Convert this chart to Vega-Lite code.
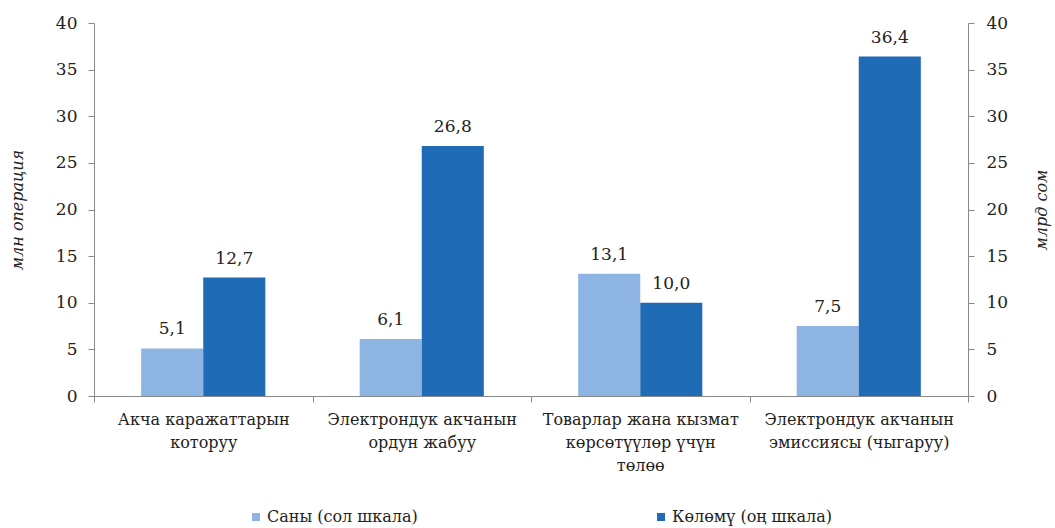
{
  "$schema": "https://vega.github.io/schema/vega-lite/v6.json",
  "width": 874,
  "height": 373,
  "autosize": {"type": "none"},
  "padding": {"left": 94, "top": 23, "right": 87, "bottom": 132},
  "config": {
    "view": {"stroke": null},
    "font": "DejaVu Serif",
    "locale": {"number": {"decimal": ",", "thousands": " ", "grouping": [3], "currency": ["", ""]}}
  },
  "data": {
    "values": [
      {"cat": "Акча каражаттарын которуу", "series": "Саны (сол шкала)", "value": 5.1},
      {"cat": "Акча каражаттарын которуу", "series": "Көлөмү (оң шкала)", "value": 12.7},
      {"cat": "Электрондук акчанын ордун жабуу", "series": "Саны (сол шкала)", "value": 6.1},
      {"cat": "Электрондук акчанын ордун жабуу", "series": "Көлөмү (оң шкала)", "value": 26.8},
      {"cat": "Товарлар жана кызмат көрсөтүүлөр үчүн төлөө", "series": "Саны (сол шкала)", "value": 13.1},
      {"cat": "Товарлар жана кызмат көрсөтүүлөр үчүн төлөө", "series": "Көлөмү (оң шкала)", "value": 10.0},
      {"cat": "Электрондук акчанын эмиссиясы (чыгаруу)", "series": "Саны (сол шкала)", "value": 7.5},
      {"cat": "Электрондук акчанын эмиссиясы (чыгаруу)", "series": "Көлөмү (оң шкала)", "value": 36.4}
    ]
  },
  "encoding": {
    "x": {
      "field": "cat",
      "type": "nominal",
      "sort": ["Акча каражаттарын которуу", "Электрондук акчанын ордун жабуу", "Товарлар жана кызмат көрсөтүүлөр үчүн төлөө", "Электрондук акчанын эмиссиясы (чыгаруу)"],
      "scale": {"paddingInner": 0, "paddingOuter": 0},
      "axis": {
        "title": null,
        "labelAngle": 0,
        "labelFontSize": 16,
        "labelColor": "#222",
        "labelLineHeight": 23,
        "labelPadding": 9,
        "labelBaseline": "top",
        "labelLimit": 300,
        "tickBand": "extent",
        "tickSize": 6,
        "tickColor": "#888",
        "domainColor": "#888",
        "labelExpr": "datum.value == 'Акча каражаттарын которуу' ? ['Акча каражаттарын', 'которуу'] : datum.value == 'Электрондук акчанын ордун жабуу' ? ['Электрондук акчанын', 'ордун жабуу'] : datum.value == 'Товарлар жана кызмат көрсөтүүлөр үчүн төлөө' ? ['Товарлар жана кызмат', 'көрсөтүүлөр үчүн', 'төлөө'] : datum.value == 'Электрондук акчанын эмиссиясы (чыгаруу)' ? ['Электрондук акчанын', 'эмиссиясы (чыгаруу)'] : ''"
      }
    },
    "xOffset": {
      "field": "series",
      "type": "nominal",
      "sort": ["Саны (сол шкала)", "Көлөмү (оң шкала)"],
      "scale": {"paddingOuter": 0.76, "paddingInner": 0}
    }
  },
  "layer": [
    {
      "mark": {"type": "bar"},
      "encoding": {
        "y": {
          "field": "value",
          "type": "quantitative",
          "scale": {"domain": [0, 40], "nice": false},
          "axis": {
            "title": "млн операция",
            "titleFontStyle": "italic",
            "titleFontWeight": "normal",
            "titleFontSize": 16,
            "titleColor": "#222",
            "titlePadding": 30,
            "values": [0, 5, 10, 15, 20, 25, 30, 35, 40],
            "labelFontSize": 17,
            "labelColor": "#222",
            "labelPadding": 11,
            "tickSize": 6,
            "tickColor": "#888",
            "domainColor": "#888",
            "grid": false
          }
        },
        "color": {
          "field": "series",
          "type": "nominal",
          "sort": ["Саны (сол шкала)", "Көлөмү (оң шкала)"],
          "scale": {"domain": ["Саны (сол шкала)", "Көлөмү (оң шкала)"], "range": ["#8DB4E2", "#1F6BB6"]},
          "legend": {
            "title": null,
            "orient": "none",
            "direction": "horizontal",
            "legendX": 154,
            "legendY": 486,
            "columns": 2,
            "columnPadding": 235,
            "labelFontSize": 16,
            "labelColor": "#222",
            "labelOffset": 3,
            "labelLimit": 300,
            "symbolType": "square",
            "symbolSize": 64,
            "symbolStrokeWidth": 0
          }
        }
      }
    },
    {
      "mark": {"type": "text", "dy": -10, "baseline": "bottom", "fontSize": 17, "color": "#222"},
      "encoding": {
        "y": {
          "field": "value",
          "type": "quantitative",
          "scale": {"domain": [0, 40], "nice": false},
          "axis": {
            "orient": "right",
            "title": "млрд сом",
            "titleAngle": 270,
            "titleFontStyle": "italic",
            "titleFontWeight": "normal",
            "titleFontSize": 16,
            "titleColor": "#222",
            "titlePadding": 42,
            "values": [0, 5, 10, 15, 20, 25, 30, 35, 40],
            "labelFontSize": 17,
            "labelColor": "#222",
            "labelPadding": 12,
            "tickSize": 6,
            "tickColor": "#888",
            "domainColor": "#888",
            "grid": false
          }
        },
        "text": {"field": "value", "type": "quantitative", "format": ".1f"}
      }
    }
  ],
  "resolve": {"scale": {"y": "independent"}}
}
